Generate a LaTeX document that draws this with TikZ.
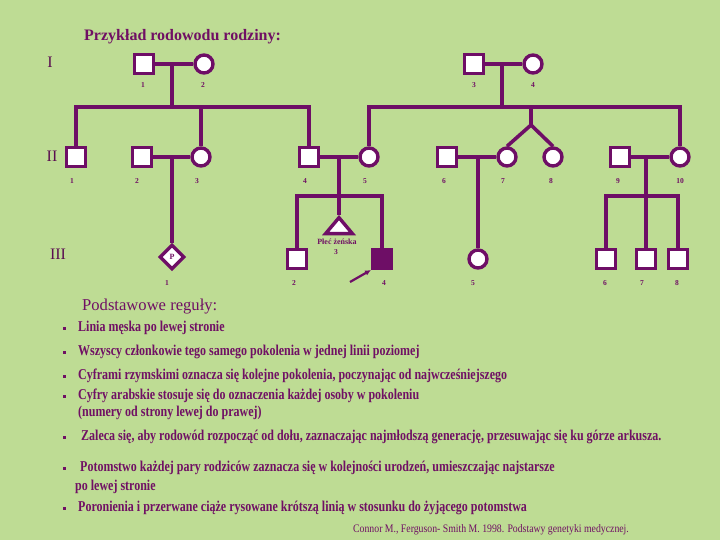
\documentclass[tikz,border=0pt]{standalone}
\usepackage{fontspec}
\setmainfont{Liberation Serif}
\newfontfamily\condb[FakeStretch=0.8]{Liberation Serif}
\newfontfamily\condc[FakeStretch=0.85]{Liberation Serif}
\usetikzlibrary{shapes.geometric,arrows.meta}
\definecolor{bg}{RGB}{190,220,148}
\definecolor{pur}{RGB}{110,14,102}
\definecolor{txt}{RGB}{112,16,100}
\begin{document}
\begin{tikzpicture}[x=1pt,y=-1pt,
  lin/.style={draw=pur,line width=3.6pt,line join=miter},
  male/.style={rectangle,draw=pur,fill=white,line width=3.4pt,minimum size=18.5pt,inner sep=0pt},
  affected/.style={male,fill=pur},
  female/.style={circle,draw=pur,fill=white,line width=3.4pt,minimum size=18pt,inner sep=0pt},
  num/.style={text=txt,font=\fontsize{7.5}{8}\selectfont\bfseries,inner sep=0pt},
  gen/.style={text=txt!80!black,font=\fontsize{16}{17}\selectfont,inner sep=0pt},
  rulet/.style={text=txt,font=\condb\fontsize{15}{16}\selectfont\bfseries,anchor=west,inner sep=0pt},
  bul/.style={rectangle,fill=txt,minimum size=3pt,inner sep=0pt},
]
\fill[bg] (0,0) rectangle (720,540);
\useasboundingbox (0,0) rectangle (720,540);

% title
\node[text=txt,font=\fontsize{16}{17}\selectfont\bfseries,anchor=west,inner sep=0pt] (title) at (84,37) {Przykład rodowodu rodziny:};

% generation labels
\node[gen] (gI) at (50,62) {I};
\node[gen] (gII) at (52,156) {II};
\node[gen] (gIII) at (58,254) {III};

% generation I
\node[male] (I1) at (144,64) {};
\node[female] (I2) at (204,64) {};
\node[male] (I3) at (474,64) {};
\node[female] (I4) at (533,64) {};
\node[num] (nI1) at (143,85) {1};
\node[num] (nI2) at (203,85) {2};
\node[num] (nI3) at (474,85) {3};
\node[num] (nI4) at (533,85) {4};

% generation II
\node[male] (II1) at (76,157) {};
\node[male] (II2) at (142,157) {};
\node[female] (II3) at (201,157) {};
\node[male] (II4) at (309,157) {};
\node[female] (II5) at (369,157) {};
\node[male] (II6) at (447,157) {};
\node[female] (II7) at (507,157) {};
\node[female] (II8) at (553,157) {};
\node[male] (II9) at (620,157) {};
\node[female] (II10) at (680,157) {};
\node[num] (nII1) at (72,181) {1};
\node[num] (nII2) at (137,181) {2};
\node[num] (nII3) at (197,181) {3};
\node[num] (nII4) at (305,181) {4};
\node[num] (nII5) at (365,181) {5};
\node[num] (nII6) at (444,181) {6};
\node[num] (nII7) at (503,181) {7};
\node[num] (nII8) at (551,181) {8};
\node[num] (nII9) at (618,181) {9};
\node[num] (nII10) at (680,181) {10};

% generation III
\node[diamond,draw=pur,fill=white,line width=3.4pt,minimum size=25pt,inner sep=0pt,text=txt,font=\fontsize{8}{9}\selectfont\bfseries] (III1) at (172,257) {P};
\node[male] (III2) at (297,259) {};
\node[isosceles triangle,shape border rotate=90,isosceles triangle apex angle=80,draw=pur,fill=white,line width=3.4pt,minimum height=16pt,inner sep=0pt,anchor=apex] (III3) at (339,215) {};
\node[affected] (III4) at (382,259) {};
\node[female] (III5) at (478,259) {};
\node[male] (III6) at (606,259) {};
\node[male] (III7) at (646,259) {};
\node[male] (III8) at (678,259) {};
\node[num,font=\fontsize{8}{9}\selectfont\bfseries] (lab3) at (337,241.5) {Płeć żeńska};
\node[num] (nIII1) at (167,283) {1};
\node[num] (nIII2) at (294,283) {2};
\node[num] (nIII3) at (336,252.5) {3};
\node[num] (nIII4) at (384,283) {4};
\node[num] (nIII5) at (473,283) {5};
\node[num] (nIII6) at (605,283) {6};
\node[num] (nIII7) at (642,283) {7};
\node[num] (nIII8) at (677,283) {8};

% connectors
\coordinate (m1) at (172,64);
\coordinate (s1) at (172,107);
\coordinate (m2) at (502,64);
\coordinate (s2) at (502,107);
\coordinate (t2) at (531,107);
\coordinate (tw) at (531,125);
\coordinate (m3) at (172,157);
\coordinate (m4) at (339,157);
\coordinate (s4) at (339,196);
\coordinate (m5) at (478,157);
\coordinate (m6) at (646,157);
\coordinate (s6) at (646,196);

\draw[lin] (I1.east) -- (I2.west);
\draw[lin] (I3.east) -- (I4.west);
\draw[lin] (m1) -- (s1);
\draw[lin] (s1) -| (II1.north);
\draw[lin] (s1) -| (II4.north);
\draw[lin] (II3.north |- s1) -- (II3.north);
\draw[lin] (m2) -- (s2);
\draw[lin] (s2) -| (II5.north);
\draw[lin] (s2) -| (II10.north);
\draw[lin] (t2) -- (tw);
\draw[lin] (tw) -- (II7.north);
\draw[lin] (tw) -- (II8.north);

\draw[lin] (II2.east) -- (II3.west);
\draw[lin] (II4.east) -- (II5.west);
\draw[lin] (II6.east) -- (II7.west);
\draw[lin] (II9.east) -- (II10.west);
\draw[lin] (m3) -- (III1.north);
\draw[lin] (m4) -- (s4);
\draw[lin] (s4) -| (III2.north);
\draw[lin] (s4) -| (III4.north);
\draw[lin] (s4) -- (III3.apex);
\draw[lin] (m5) -- (III5.north);
\draw[lin] (m6) -- (s6);
\draw[lin] (s6) -| (III6.north);
\draw[lin] (s6) -| (III8.north);
\draw[lin] (s6) -- (III7.north);

\coordinate (arrtail) at (350,282);
\draw[draw=pur,line width=2.2pt,-{Latex[length=6pt,width=5.5pt]}] (arrtail) -- (III4.south west);

% rules
\node[text=txt,font=\fontsize{16.6}{18}\selectfont,anchor=west,inner sep=0pt] (head) at (82,307) {Podstawowe reguły:};
\node[bul] (b1) at (64,328) {};
\node[rulet] (r1) at (78,328) {Linia męska po lewej stronie};
\node[bul] (b2) at (64,352) {};
\node[rulet] (r2) at (78,352) {Wszyscy członkowie tego samego pokolenia w jednej linii poziomej};
\node[bul] (b3) at (64,376) {};
\node[rulet] (r3) at (78,376) {Cyframi rzymskimi oznacza się kolejne pokolenia, poczynając od najwcześniejszego};
\node[bul] (b4) at (64,396) {};
\node[rulet] (r4) at (78,396) {Cyfry arabskie stosuje się do oznaczenia każdej osoby w pokoleniu};
\node[rulet] (r4b) at (78,413) {(numery od strony lewej do prawej)};
\node[bul] (b5) at (64,437) {};
\node[rulet] (r5) at (81,437) {Zaleca się, aby rodowód rozpocząć od dołu, zaznaczając najmłodszą generację, przesuwając się ku górze arkusza.};
\node[bul] (b6) at (64,468) {};
\node[rulet] (r6) at (80,468) {Potomstwo każdej pary rodziców zaznacza się w kolejności urodzeń, umieszczając najstarsze};
\node[rulet] (r6b) at (75,487) {po lewej stronie};
\node[bul] (b7) at (64,508) {};
\node[rulet] (r7) at (78,508) {Poronienia i przerwane ciąże rysowane krótszą linią w stosunku do żyjącego potomstwa};
\node[text=txt,font=\condc\fontsize{11.5}{12}\selectfont,anchor=west,inner sep=0pt] (cite) at (353,530) {Connor M., Ferguson- Smith M. 1998. Podstawy genetyki medycznej.};
\end{tikzpicture}
\end{document}
